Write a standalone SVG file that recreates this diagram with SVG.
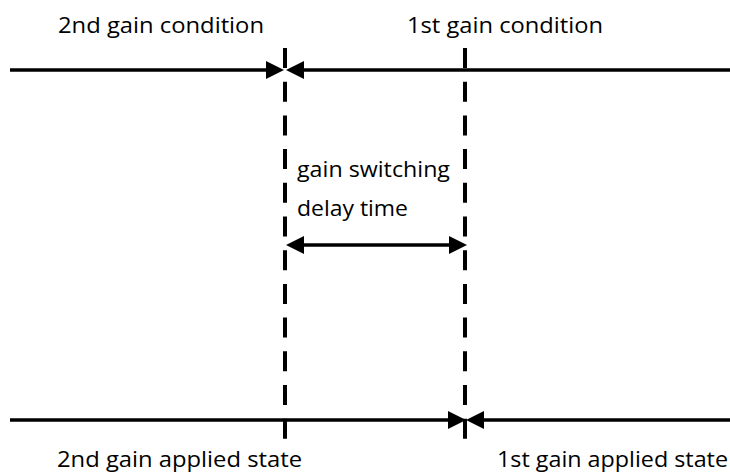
<svg xmlns="http://www.w3.org/2000/svg" width="730" height="475" viewBox="0 0 730 475">
  <style>
    .lbl { font-family: "Open Sans", "Noto Sans", "Liberation Sans", sans-serif; font-size: 22px; fill: #000; }
    .solid { stroke: #000; stroke-width: 3.6; fill: none; }
    .dash { stroke: #000; stroke-width: 4; fill: none; stroke-dasharray: 20 13.7; }
  </style>
  <defs>
    <marker id="ah" markerUnits="userSpaceOnUse" markerWidth="18" markerHeight="18" viewBox="0 0 17 17" refX="0" refY="8.5" orient="auto">
      <path d="M0,0 L17,8.5 L0,17 z" fill="#000"/>
    </marker>
  </defs>
  <rect width="730" height="475" fill="#fff"/>

  <g id="labels">
    <text class="lbl" x="58" y="33" textLength="206" lengthAdjust="spacingAndGlyphs">2nd gain condition</text>
    <text class="lbl" x="407" y="33" textLength="196" lengthAdjust="spacingAndGlyphs">1st gain condition</text>
    <text class="lbl" x="297" y="177" textLength="153" lengthAdjust="spacingAndGlyphs">gain switching</text>
    <text class="lbl" x="297" y="216" textLength="111" lengthAdjust="spacingAndGlyphs">delay time</text>
    <text class="lbl" x="57" y="467" textLength="245" lengthAdjust="spacingAndGlyphs">2nd gain applied state</text>
    <text class="lbl" x="497" y="467" textLength="231" lengthAdjust="spacingAndGlyphs">1st gain applied state</text>
  </g>

  <g id="connectors">
    <!-- vertical dashed markers -->
    <line class="dash" x1="285" y1="48" x2="285" y2="440"/>
    <line class="dash" x1="465" y1="48" x2="465" y2="440"/>
    <!-- top timeline -->
    <line class="solid" x1="10" y1="70" x2="266" y2="70" marker-end="url(#ah)"/>
    <line class="solid" x1="730" y1="70" x2="304" y2="70" marker-end="url(#ah)"/>
    <!-- bottom timeline -->
    <line class="solid" x1="10" y1="420" x2="448" y2="420" marker-end="url(#ah)"/>
    <line class="solid" x1="730" y1="420" x2="484" y2="420" marker-end="url(#ah)"/>
    <!-- delay double arrow -->
    <line class="solid" x1="304" y1="245" x2="449" y2="245" marker-end="url(#ah)" marker-start="url(#ahs)"/>
  </g>
  <defs>
    <marker id="ahs" markerUnits="userSpaceOnUse" markerWidth="18" markerHeight="18" viewBox="0 0 17 17" refX="17" refY="8.5" orient="auto">
      <path d="M17,0 L0,8.5 L17,17 z" fill="#000"/>
    </marker>
  </defs>
</svg>
